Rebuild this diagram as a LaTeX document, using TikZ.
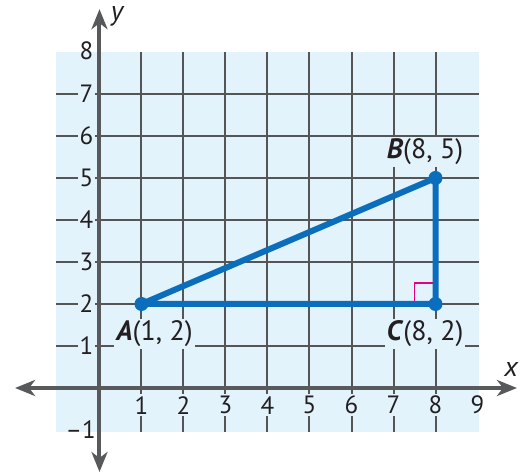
\documentclass[tikz,border=0pt]{standalone}
\usepackage{fontspec}
\setmainfont{PT Sans}
\usetikzlibrary{arrows.meta}
\definecolor{bgblue}{HTML}{E2F3FC}
\definecolor{gridgray}{HTML}{555555}
\definecolor{axisgray}{HTML}{58595B}
\definecolor{txtgray}{HTML}{231F20}
\definecolor{triblue}{HTML}{0B6EBD}
\definecolor{mag}{HTML}{E6007E}
\begin{document}
\begin{tikzpicture}[x=21pt,y=21pt,
  gridline/.style={gridgray, line width=1pt},
  axisline/.style={axisgray, line width=2pt, -{Stealth[length=10pt,width=8pt,inset=3pt]}},
  ticklab/.style={fill=bgblue, inner sep=1pt, text=txtgray, font=\fontsize{12.5}{14}\selectfont},
  ptlab/.style={fill=bgblue, inner sep=1pt, text=txtgray, font=\fontsize{14}{16}\selectfont},
  axlab/.style={inner sep=0pt, text=txtgray, font=\fontsize{14}{16}\selectfont\itshape},
  tri/.style={triblue, line width=3pt, line join=round},
  dot/.style={circle, fill=triblue, inner sep=0pt, minimum size=7pt}]
\useasboundingbox (-2.369,-2.024) rectangle (10.131,9.238);
\fill[bgblue] (-1.04,-1.05) rectangle (9.03,8);
\foreach \i in {1,...,8} \draw[gridline] (\i,-1.05) -- (\i,8);
\foreach \j in {1,...,7} \draw[gridline] (-1.04,\j) -- (9.03,\j);
% tick labels
\foreach \i in {1,...,8} \node[ticklab] (xl\i) at (\i,-0.41) {\i};
\node[ticklab, fill=none] (xl9) at (9,-0.41) {9};
\foreach \j in {1,...,7} \node[ticklab] (yl\j) at (-0.31,\j) {\j};
\node[ticklab, fill=none] (yl8) at (-0.31,8.04) {8};
\node[ticklab, fill=none] (ylm1) at (-0.45,-1.0) {–1};
% axes
\coordinate (xL) at (-2.01,0);
\coordinate (xR) at (9.94,0);
\coordinate (yB) at (0,-2.0);
\coordinate (yT) at (0,9.02);
\coordinate (O) at (0,0);
\draw[axisline] (O) -- (xL);
\draw[axisline] (O) -- (xR);
\draw[axisline] (O) -- (yB);
\draw[axisline] (O) -- (yT);
\node[axlab] (xlab) at (9.8,0.45) {x};
\node[axlab] (ylab) at (0.42,8.86) {y};
% triangle
\coordinate (A) at (1,2);
\coordinate (B) at (8,5);
\coordinate (C) at (8,2);
\draw[mag, line width=0.8pt] (7.5,2) -- (7.5,2.5) -- (8,2.5);
\draw[tri] (A) -- (B) -- (C) -- cycle;
\node[dot] (dA) at (A) {};
\node[dot] (dB) at (B) {};
\node[dot] (dC) at (C) {};
\node[ptlab] (lA) at (1.31,1.29) {\textbf{\textit{A}}(1, 2)};
\node[ptlab] (lB) at (7.75,5.62) {\textbf{\textit{B}}(8, 5)};
\node[ptlab] (lC) at (7.75,1.29) {\textbf{\textit{C}}(8, 2)};
\end{tikzpicture}
\end{document}
